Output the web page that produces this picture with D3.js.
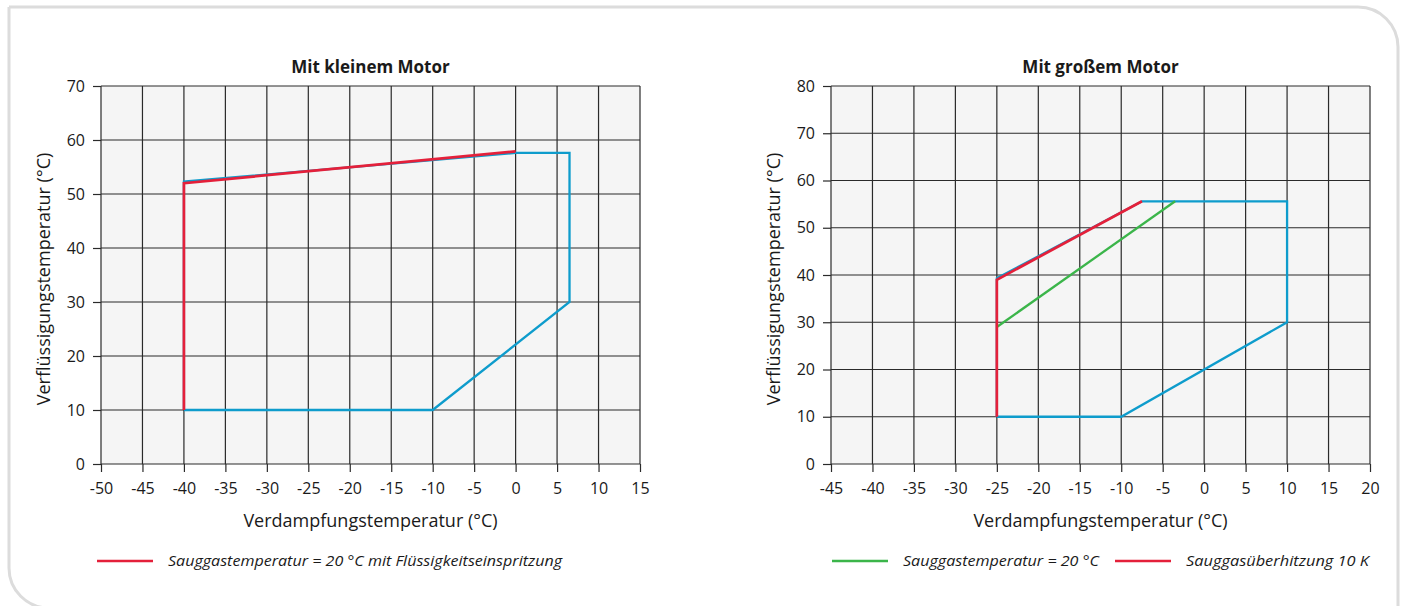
<!DOCTYPE html>
<html>
<head>
<meta charset="utf-8">
<script src="https://cdn.jsdelivr.net/npm/d3@7"></script>
<style>
  html, body { margin: 0; padding: 0; background: #ffffff; }
  svg { display: block; }
  text { font-family: "Open Sans", "Noto Sans", sans-serif; fill: #1a1a1a; }
</style>
</head>
<body>
<svg id="chart" width="1407" height="606"></svg>
<script>
// ---------- DATA ----------
const leftTitle = "Mit kleinem Motor";
const rightTitle = "Mit großem Motor";
const xAxisTitle = "Verdampfungstemperatur (°C)";
const yAxisTitle = "Verflüssigungstemperatur (°C)";

const leftXTicks = [-50, -45, -40, -35, -30, -25, -20, -15, -10, -5, 0, 5, 10, 15];
const leftYTicks = [0, 10, 20, 30, 40, 50, 60, 70];
const rightXTicks = [-45, -40, -35, -30, -25, -20, -15, -10, -5, 0, 5, 10, 15, 20];
const rightYTicks = [0, 10, 20, 30, 40, 50, 60, 70, 80];

// envelope (blue) and limit lines, as [evaporating temp, condensing temp]
const leftEnvelope = [[-40, 10], [-10, 10], [6.5, 30], [6.5, 57.6], [0, 57.6], [-40, 52.3], [-40, 10]];
const leftRed = [[-40, 10], [-40, 52], [0, 57.9]];

const rightEnvelope = [[-25, 10], [-10, 10], [10, 30], [10, 55.6], [-7.5, 55.6], [-25, 39.3], [-25, 10]];
const rightRed = [[-25, 10], [-25, 39], [-7.5, 55.6]];
const rightGreen = [[-25, 29], [-3.5, 55.6]];

const leftLegend = ["Sauggastemperatur = 20 °C mit Flüssigkeitseinspritzung"];
const rightLegend = ["Sauggastemperatur = 20 °C", "Sauggasüberhitzung 10 K"];

// ---------- STYLE ----------
const BLUE = "#0e9ccc", RED = "#e4203a", GREEN = "#3bb54a";
const GRID = "#2a2a2a", PLOTBG = "#f5f5f5";

const svg = d3.select("#chart");

// frame
svg.append("path")
  .attr("d", "M9,7 H1358 A40,40 0 0 1 1398,47 V640 M9,7 V568 A40,40 0 0 0 49,608 H1398")
  .attr("fill", "none").attr("stroke", "#dcdcdc").attr("stroke-width", 3);

function drawPanel(cfg) {
  const x = d3.scaleLinear().domain(cfg.xDomain).range([cfg.left, cfg.right]);
  const y = d3.scaleLinear().domain(cfg.yDomain).range([cfg.bottom, cfg.top]);
  const g = svg.append("g");

  g.append("rect")
    .attr("x", x(cfg.xDomain[0])).attr("y", y(cfg.yDomain[1]))
    .attr("width", x(cfg.xDomain[1]) - x(cfg.xDomain[0]))
    .attr("height", y(cfg.yDomain[0]) - y(cfg.yDomain[1]))
    .attr("fill", PLOTBG);

  // grid
  const grid = g.append("g").attr("stroke", GRID).attr("stroke-width", 1.2);
  grid.selectAll("line.v").data(cfg.xTicks).join("line")
    .attr("class", "v")
    .attr("x1", d => x(d)).attr("x2", d => x(d))
    .attr("y1", y(cfg.yDomain[0])).attr("y2", y(cfg.yDomain[1]));
  grid.selectAll("line.h").data(cfg.yTicks).join("line")
    .attr("class", "h")
    .attr("y1", d => y(d)).attr("y2", d => y(d))
    .attr("x1", x(cfg.xDomain[0])).attr("x2", x(cfg.xDomain[1]));

  // axes
  const fmt = d => String(d);
  const xAxis = d3.axisBottom(x).tickValues(cfg.xTicks).tickSize(8).tickPadding(8).tickFormat(fmt);
  const yAxis = d3.axisLeft(y).tickValues(cfg.yTicks).tickSize(8).tickPadding(8).tickFormat(fmt);
  const gx = g.append("g").attr("transform", `translate(0,${y(cfg.yDomain[0])})`).call(xAxis);
  const gy = g.append("g").attr("transform", `translate(${x(cfg.xDomain[0])},0)`).call(yAxis);
  [gx, gy].forEach(a => {
    a.select(".domain").remove();
    a.selectAll(".tick line").attr("stroke", GRID).attr("stroke-width", 1.2);
    a.selectAll(".tick text").attr("font-size", 16).attr("fill", "#1a1a1a")
      .style("font-family", '"Open Sans", sans-serif');
  });
  gx.selectAll(".tick text").attr("dy", "0.85em");

  // lines
  const line = d3.line().x(d => x(d[0])).y(d => y(d[1]));
  g.append("path").datum(cfg.envelope).attr("d", line)
    .attr("fill", "none").attr("stroke", BLUE).attr("stroke-width", 2.3).attr("stroke-linejoin", "miter");
  (cfg.extra || []).forEach(s => {
    g.append("path").datum(s.data).attr("d", line)
      .attr("fill", "none").attr("stroke", s.color).attr("stroke-width", s.width).attr("stroke-linejoin", "miter");
  });

  const cx = (x(cfg.xDomain[0]) + x(cfg.xDomain[1])) / 2;
  const cy = (y(cfg.yDomain[0]) + y(cfg.yDomain[1])) / 2;

  // title
  g.append("text").attr("x", cx).attr("y", 73).attr("text-anchor", "middle")
    .attr("font-weight", 700).attr("font-size", 17).text(cfg.title);
  // x title
  g.append("text").attr("x", cx).attr("y", 527).attr("text-anchor", "middle")
    .attr("font-size", 18).text(xAxisTitle);
  // y title
  g.append("text").attr("transform", `translate(${cfg.left - 51},${cy + 4}) rotate(-90)`)
    .attr("text-anchor", "middle").attr("font-size", 18).text(yAxisTitle);

  // legend
  cfg.legend.forEach(l => {
    g.append("line").attr("x1", l.x0).attr("x2", l.x0 + 56).attr("y1", 561).attr("y2", 561)
      .attr("stroke", l.color).attr("stroke-width", 2.3);
    g.append("text").attr("x", l.x0 + 71).attr("y", 566).attr("font-size", 14)
      .attr("font-style", "italic").attr("textLength", l.len).attr("lengthAdjust", "spacingAndGlyphs")
      .text(l.label);
  });
}

drawPanel({
  xDomain: [-50, 15], yDomain: [0, 70], left: 101, right: 640, top: 86, bottom: 464,
  xTicks: leftXTicks, yTicks: leftYTicks, envelope: leftEnvelope,
  extra: [{ data: leftRed, color: RED, width: 2.7 }],
  title: leftTitle,
  legend: [{ x0: 97, color: RED, label: leftLegend[0], len: 394 }]
});

drawPanel({
  xDomain: [-45, 20], yDomain: [0, 80], left: 831, right: 1370, top: 86, bottom: 464,
  xTicks: rightXTicks, yTicks: rightYTicks, envelope: rightEnvelope,
  extra: [{ data: rightGreen, color: GREEN, width: 2.3 }, { data: rightRed, color: RED, width: 2.7 }],
  title: rightTitle,
  legend: [
    { x0: 832, color: GREEN, label: rightLegend[0], len: 196 },
    { x0: 1115, color: RED, label: rightLegend[1], len: 183 }
  ]
});
</script>
</body>
</html>
